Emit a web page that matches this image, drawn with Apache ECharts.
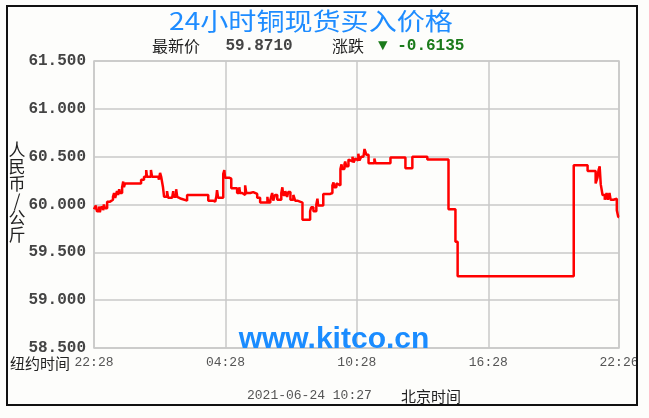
<!DOCTYPE html>
<html><head><meta charset="utf-8">
<script src="https://cdn.jsdelivr.net/npm/echarts@6/dist/echarts.min.js"></script>
<style>html,body{margin:0;padding:0;background:#fdfdfb}#c{width:649px;height:418px}</style>
</head><body><div id="c"></div>
<script>
// minutes since 22:28 (New York time axis)
const times = [0,5,8,14,16,19,25,27,30,36,44,52,55,58,63,66,69,71,77,80,82,85,129,137,143,145,156,159,176,178,181,184,189,192,200,203,214,217,219,225,228,233,239,255,313,326,332,335,337,340,354,357,359,370,376,392,398,400,406,411,414,417,428,436,447,455,475,477,483,488,491,496,502,513,516,518,524,529,532,538,546,551,557,571,592,595,601,609,612,614,628,647,653,656,658,664,669,675,678,680,686,688,691,697,702,708,711,716,721,724,727,732,738,741,746,752,768,771,812,853,872,913,971,990,996,1314,1352,1374,1379,1382,1385,1388,1393,1399,1404,1407,1412,1415,1423,1432,1436,1438];
const prices = [59.95,59.99,59.93,59.98,59.92,59.97,59.94,60.00,59.96,60.03,60.05,60.08,60.12,60.07,60.14,60.10,60.16,60.12,60.18,60.24,60.18,60.22,60.26,60.29,60.36,60.29,60.36,60.29,60.31,60.26,60.33,60.29,60.18,60.08,60.14,60.07,60.08,60.14,60.08,60.16,60.08,60.06,60.04,60.10,60.04,60.03,60.05,60.08,60.15,60.07,60.32,60.36,60.28,60.27,60.17,60.12,60.18,60.12,60.14,60.10,60.20,60.12,60.13,60.11,60.07,60.02,60.08,60.02,60.05,60.12,60.04,60.10,60.05,60.12,60.18,60.10,60.14,60.08,60.13,60.05,60.10,60.04,60.02,59.84,59.93,59.97,59.93,60.00,60.06,59.99,60.11,60.12,60.20,60.23,60.18,60.22,60.20,60.37,60.42,60.37,60.42,60.45,60.40,60.47,60.45,60.50,60.44,60.48,60.46,60.53,60.46,60.50,60.49,60.58,60.52,60.43,60.48,60.43,60.49,60.38,60.50,60.47,59.95,59.61,59.25,60.41,60.35,60.22,60.28,60.36,60.40,60.21,60.10,60.05,60.12,60.05,60.12,60.05,60.06,59.94,59.87,59.871];
const xTickValues = [0,360,720,1080,1438];
const xTickLabels = ['22:28','04:28','10:28','16:28','22:26'];
const titleText = '24小时铜现货买入价格';
const latestLabel = '最新价';
const latestValue = '59.8710';
const changeLabel = '涨跌';
const changeValue = '▼ -0.6135';
const yUnit = '人\n民\n币\n/\n公\n斤';
const nyLabel = '纽约时间';
const stampText = '2021-06-24 10:27';
const bjLabel = '北京时间';
const watermark = 'www.kitco.cn';

const chart = echarts.init(document.getElementById('c'), null, {renderer:'canvas'});
const CJK = '"Noto Sans CJK SC", sans-serif';
const MONO = '"Liberation Mono", "DejaVu Sans Mono", monospace';
chart.setOption({
  backgroundColor:'#fdfdfb',
  animation:false,
  grid:{left:94, top:61, right:30, bottom:70, show:true, borderColor:'#c8c8c8', borderWidth:1.5, backgroundColor:'#fdfdfb'},
  xAxis:{type:'value', min:0, max:1438, interval:360,
    axisLine:{show:false}, axisTick:{show:false},
    splitLine:{show:true, lineStyle:{color:'#c8c8c8', width:1.5}},
    axisLabel:{show:true, showMinLabel:true, showMaxLabel:true, hideOverlap:false, margin:8,
      color:'#555', fontFamily:MONO, fontSize:13,
      formatter:function(v){const i=xTickValues.indexOf(v);return i>=0?xTickLabels[i]:'';}}
  },
  yAxis:{type:'value', min:58.5, max:61.5, interval:0.5,
    axisLine:{show:false}, axisTick:{show:false},
    splitLine:{show:true, lineStyle:{color:'#c8c8c8', width:1.5}},
    axisLabel:{margin:8, color:'#444', fontFamily:MONO, fontWeight:'bold', fontSize:16,
      formatter:function(v){return v.toFixed(3);}}
  },
  series:[{type:'line', step:'end', showSymbol:false, symbol:'none',
    data:times.map((t,i)=>[t,prices[i]]),
    lineStyle:{color:'#ff0000', width:2.5}, z:3}],
  graphic:[
    {type:'rect', shape:{x:638,y:0,width:11,height:418}, style:{fill:'#fdfdfb', stroke:null}, z:99},
    {type:'rect', shape:{x:7,y:6,width:630,height:399}, style:{fill:null, stroke:'#111', lineWidth:2}, z:100},
    {type:'text', x:311, y:21, scaleX:1.17, originX:0, originY:0,
      style:{text:titleText, fill:'#1e8cff', font:'24px '+CJK, textAlign:'center', textVerticalAlign:'middle'}},
    {type:'text', x:176, y:46, style:{text:latestLabel, fill:'#222', font:'16px '+CJK, textAlign:'center', textVerticalAlign:'middle'}},
    {type:'text', x:259, y:46, style:{text:latestValue, fill:'#444', font:'bold 16px '+MONO, textAlign:'center', textVerticalAlign:'middle'}},
    {type:'text', x:348, y:46, style:{text:changeLabel, fill:'#222', font:'16px '+CJK, textAlign:'center', textVerticalAlign:'middle'}},
    {type:'text', x:378, y:46, style:{text:changeValue, fill:'#1a7a1a', font:'bold 16px '+MONO, textAlign:'left', textVerticalAlign:'middle'}},
    {type:'text', x:17, y:192, style:{text:yUnit, fill:'#222', font:'17px '+CJK, lineHeight:17, textAlign:'center', textVerticalAlign:'middle'}},
    {type:'text', x:10, y:363, style:{text:nyLabel, fill:'#222', font:'15px '+CJK, textAlign:'left', textVerticalAlign:'middle'}},
    {type:'text', x:247, y:396, style:{text:stampText, fill:'#555', font:'13px '+MONO, textAlign:'left', textVerticalAlign:'middle'}},
    {type:'text', x:401, y:396, style:{text:bjLabel, fill:'#222', font:'15px '+CJK, textAlign:'left', textVerticalAlign:'middle'}},
    {type:'text', x:334, y:340, z:50, style:{text:watermark, fill:'#1a8cff', font:'bold 30px "Liberation Sans", Arial, sans-serif', textAlign:'center', textVerticalAlign:'middle'}}
  ]
});
</script></body></html>
